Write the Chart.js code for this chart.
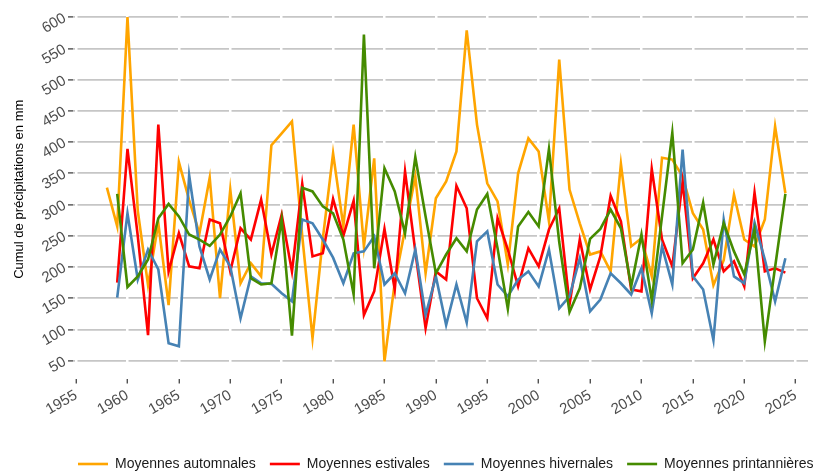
<!DOCTYPE html>
<html>
<head>
<meta charset="utf-8">
<script src="https://cdn.jsdelivr.net/npm/chart.js@4"></script>
<style>
html,body{margin:0;padding:0;background:#fff;}
#wrap{width:818px;height:473px;position:relative;}
</style>
</head>
<body>
<div id="wrap"><canvas id="c" width="818" height="473"></canvas></div>
<script>
const seriesNames = ["Moyennes automnales","Moyennes estivales","Moyennes hivernales","Moyennes printannières"];
const yearsAutumn = [];
for (let y = 1958; y <= 2024; y++) yearsAutumn.push(y);
const yearsOther = yearsAutumn.slice(1);
const automnales = [327,265,600,290,171,270,139,368,307,254,343,150,324,174,206,185,395,414,433,250,86,245,382,265,428,233,374,49,175,260,345,190,310,337,385,579,428,334,305,204,350,406,385,273,532,324,270,220,225,193,365,233,246,185,375,372,345,286,260,171,211,316,244,233,276,425,318];
const estivales = [175,389,250,91,428,193,254,201,198,276,270,193,262,244,308,220,284,193,333,217,222,309,250,306,123,161,261,164,353,225,102,193,180,330,294,150,118,278,228,169,230,201,260,294,140,244,164,217,314,273,164,161,357,244,201,337,182,206,244,193,209,169,319,193,198,191];
const hivernales = [151,286,180,228,196,78,73,347,233,180,228,201,118,185,174,173,158,145,276,270,244,215,174,222,225,249,172,190,158,228,123,185,107,172,111,241,257,172,153,180,193,169,228,134,153,214,129,148,190,174,156,198,126,233,172,388,185,164,83,276,185,174,271,212,145,214];
const printannieres = [317,168,185,212,278,301,281,252,244,234,252,281,318,182,172,174,276,90,327,321,297,286,244,156,572,198,358,321,254,376,281,190,220,246,225,292,317,230,133,265,288,265,389,240,128,166,245,261,292,262,169,252,147,281,415,206,228,303,204,270,225,188,260,81,200,317];
const xTicks = [1955,1960,1965,1970,1975,1980,1985,1990,1995,2000,2005,2010,2015,2020,2025];
const yTicks = [50,100,150,200,250,300,350,400,450,500,550,600];
const colors = ["#FFA500","#FF0000","#4682B4","#458B00"];

function pts(xs, ys){ return xs.map((x,i)=>({x:x,y:ys[i]})); }

const datasets = [
  {label: seriesNames[0], data: pts(yearsAutumn, automnales), order: 4},
  {label: seriesNames[1], data: pts(yearsOther, estivales), order: 3},
  {label: seriesNames[2], data: pts(yearsOther, hivernales), order: 2},
  {label: seriesNames[3], data: pts(yearsOther, printannieres), order: 1}
].map((d,i)=>Object.assign(d,{borderColor: colors[i], backgroundColor: colors[i], borderWidth: 2.6, pointRadius: 0, tension: 0, fill: false}));

// place the legend block (layout only)
const legendShift = {
  id: 'legendShift',
  afterLayout(chart) {
    const L = chart.legend;
    if (L) { L.left = 64; L.right = 900; }
  }
};

function noPad(s){ s.paddingTop = 0; s.paddingBottom = 0; s.paddingLeft = 0; s.paddingRight = 0; }

new Chart(document.getElementById('c'), {
  type: 'line',
  data: {datasets},
  plugins: [legendShift],
  options: {
    responsive: false,
    animation: false,
    devicePixelRatio: 1,
    layout: {padding: {left: 0, right: 10, top: 0, bottom: -8}},
    plugins: {
      legend: {
        position: 'bottom',
        align: 'start',
        labels: {
          usePointStyle: true,
          pointStyle: 'line',
          pointStyleWidth: 30,
          boxHeight: 14,
          padding: 14,
          color: '#1a1a1a',
          font: {family: 'Liberation Sans, Arial, sans-serif', size: 14},
          sort: (a,b)=>a.datasetIndex-b.datasetIndex
        }
      },
      tooltip: {enabled: false}
    },
    scales: {
      x: {
        type: 'linear',
        min: 1954.7,
        max: 2026.2,
        afterBuildTicks: s => { s.ticks = xTicks.map(v=>({value:v})); },
        afterFit: s => { s.height = 64.5; noPad(s); },
        grid: {color: '#ffffff', lineWidth: 2.5, z: -1, drawTicks: true, tickLength: 5, tickColor: '#333333', tickWidth: 1.2},
        border: {display: false},
        ticks: {
          minRotation: 30, maxRotation: 30, autoSkip: false, padding: 3,
          color: '#4d4d4d',
          font: {family: 'Liberation Sans, Arial, sans-serif', size: 15},
          callback: v => String(v)
        }
      },
      y: {
        type: 'linear',
        min: 21.5,
        max: 627.5,
        afterBuildTicks: s => { s.ticks = yTicks.map(v=>({value:v})); },
        afterFit: s => { s.width = 73; noPad(s); },
        grid: {color: '#c6c6c6', lineWidth: 1.8, z: -2, drawTicks: true, tickLength: 5, tickColor: '#333333', tickWidth: 1.2},
        border: {display: false},
        title: {
          display: true,
          text: 'Cumul de précipitations en mm',
          color: '#000000',
          font: {family: 'Liberation Sans, Arial, sans-serif', size: 13},
          padding: {top: 12, bottom: 0}
        },
        ticks: {
          minRotation: 30, maxRotation: 30, padding: 3,
          color: '#4d4d4d',
          font: {family: 'Liberation Sans, Arial, sans-serif', size: 15},
          callback: v => String(v)
        }
      }
    }
  }
});
</script>
</body>
</html>
